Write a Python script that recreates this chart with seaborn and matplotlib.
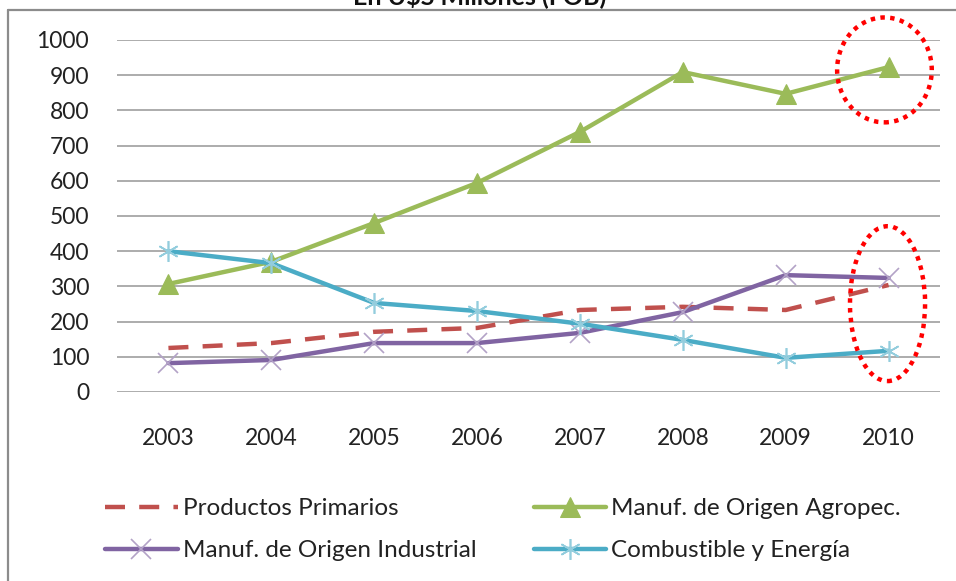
import numpy as np
import pandas as pd
import matplotlib
matplotlib.use("Agg")
import matplotlib.pyplot as plt
import seaborn as sns
from matplotlib.patches import Ellipse
from matplotlib.lines import Line2D

years = ["2003", "2004", "2005", "2006", "2007", "2008", "2009", "2010"]
primarios = [125, 139, 171, 182, 233, 242, 233, 304]
agropec = [307, 370, 480, 594, 739, 909, 847, 923]
industrial = [82, 91, 139, 139, 168, 227, 332, 324]
combustible = [400, 366, 253, 230, 194, 148, 97, 117]

labels = ["Productos Primarios", "Manuf. de Origen Agropec.",
          "Manuf. de Origen Industrial", "Combustible y Energía"]
title = "En U$S Millones (FOB)"
yticks = list(range(0, 1001, 100))

sns.set_theme(style="white")
plt.rcParams['font.family'] = ['Lato', 'DejaVu Sans']

fig = plt.figure(figsize=(9.56, 5.81), dpi=100)
ax = fig.add_axes([117/956, 1-392/581, (940-117)/956, (392-40)/581])

x = np.arange(len(years))
df = pd.DataFrame({"x": x, "p": primarios, "a": agropec, "i": industrial, "c": combustible})

sns.lineplot(data=df, x="x", y="p", ax=ax, color="#C0504D", lw=3.2,
             dashes=False, linestyle=(0, (4.5, 3.2)), label=labels[0])
sns.lineplot(data=df, x="x", y="a", ax=ax, color="#9BBB59", lw=3.2,
             marker="^", markersize=14, markeredgecolor="#9BBB59",
             markerfacecolor="#9BBB59", label=labels[1])
sns.lineplot(data=df, x="x", y="i", ax=ax, color="#8064A2", lw=3.2,
             marker="x", markersize=14, markeredgewidth=1.2,
             markeredgecolor="#B3A2C7", label=labels[2])
sns.lineplot(data=df, x="x", y="c", ax=ax, color="#4BACC6", lw=3.2,
             marker=(6, 2, 0), markersize=15, markeredgewidth=1.2,
             markeredgecolor="#93CDDD", label=labels[3])

ax.set_xlim(-0.5, len(years) - 0.5)
ax.set_ylim(0, 1000)
ax.set_yticks(yticks)
ax.set_yticklabels([str(v) for v in yticks])
ax.set_xticks(x)
ax.set_xticklabels(years)
ax.set_xlabel("")
ax.set_ylabel("")
ax.yaxis.grid(True, color="#A6A6A6", lw=1.3)
ax.set_axisbelow(True)
for s in ax.spines.values():
    s.set_visible(False)
ax.tick_params(axis="y", length=0, pad=20, labelsize=16.5, labelcolor="#222222")
ax.tick_params(axis="x", length=0, pad=26, labelsize=16.5, labelcolor="#222222")

# highlight ellipses
e1 = Ellipse((6.96, 915), 0.92, 298, fill=False, ec="#FF0000", lw=3.2,
             linestyle=(0, (1, 1.2)), clip_on=False, zorder=10)
e2 = Ellipse((6.99, 251), 0.73, 440, fill=False, ec="#FF0000", lw=3.2,
             linestyle=(0, (1, 1.2)), clip_on=False, zorder=10)
ax.add_patch(e1)
ax.add_patch(e2)

handles, labs = ax.get_legend_handles_labels()
ax.get_legend().remove()
order = [0, 2, 1, 3]
leg = fig.legend([handles[k] for k in order], [labs[k] for k in order],
                 loc="upper left", bbox_to_anchor=(105/956, 1-498/581),
                 ncol=2, frameon=False, fontsize=17.5, handlelength=3.0,
                 handletextpad=0.2, columnspacing=2.35, labelspacing=0.88,
                 borderpad=0, borderaxespad=0)
for t in leg.get_texts():
    t.set_color("#222222")

fig.text(480/956, 1-4/581, title, ha="center", va="baseline",
         fontsize=18, fontweight="bold", color="#111111")

fig.add_artist(Line2D([8/956, 1], [1-10/581, 1-10/581], transform=fig.transFigure,
                      color="#8C8C8C", lw=1.6))
fig.add_artist(Line2D([8/956, 8/956], [0, 1-10/581], transform=fig.transFigure,
                      color="#8C8C8C", lw=1.6))

fig.savefig("out.png", dpi=100)
